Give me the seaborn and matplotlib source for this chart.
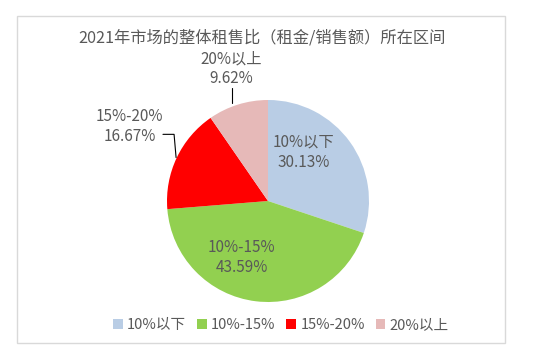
import matplotlib
matplotlib.use("Agg")
import matplotlib.pyplot as plt
import seaborn as sns
from matplotlib.patches import Rectangle, Patch

sns.set_theme(style="white")
plt.rcParams['font.family'] = ['Noto Sans CJK SC', 'DejaVu Sans']

title = "2021年市场的整体租售比（租金/销售额）所在区间"
categories = ["10%以下", "10%-15%", "15%-20%", "20%以上"]
values = [30.13, 43.59, 16.67, 9.62]
colors = ["#B9CDE5", "#92D050", "#FF0000", "#E6B9B8"]
txt = "#595959"

W, H = 534, 356
fig = plt.figure(figsize=(W / 100, H / 100), dpi=100)
fig.patch.set_facecolor("white")

# outer chart frame
fig.add_artist(Rectangle((17 / W, 1 - 343 / H), (505 - 17) / W, (343 - 16) / H,
                         transform=fig.transFigure, fill=False,
                         edgecolor="#D9D9D9", linewidth=1))

cx, cy, r = 268, 201, 101
ax = fig.add_axes([(cx - r) / W, 1 - (cy + r) / H, 2 * r / W, 2 * r / H])
wedges, _ = ax.pie(values, colors=colors, startangle=90, counterclock=False,
                   wedgeprops=dict(linewidth=0))
ax.set_xlim(-1, 1)
ax.set_ylim(-1, 1)
ax.set_aspect("equal")
ax.axis("off")

fs = 11
ls = 1.25
lab = [f"{c}\n{v:.2f}%" for c, v in zip(categories, values)]
ax.text(0.35, 0.48, lab[0], ha="center", va="center", fontsize=fs, color=txt,
        linespacing=ls)
ax.text(-0.26, -0.56, lab[1], ha="center", va="center", fontsize=fs, color=txt,
        linespacing=ls)
ax.text(-1.37, 0.74, lab[2], ha="center", va="center", fontsize=fs, color=txt,
        linespacing=ls, clip_on=False)
ax.text(-0.36, 1.31, lab[3], ha="center", va="center", fontsize=fs, color=txt,
        linespacing=ls, clip_on=False)
# leader lines
ax.plot([-1.04, -0.93, -0.91], [0.66, 0.66, 0.43], color="black", lw=0.8,
        clip_on=False)
ax.plot([-0.36, -0.36], [1.12, 0.97], color="black", lw=0.8, clip_on=False)

fig.text(262 / W, 1 - 38 / H, title, ha="center", va="center", fontsize=11.7,
         color=txt)

handles = [Patch(facecolor=c, edgecolor="none") for c in colors]
fig.legend(handles, categories, loc="center", bbox_to_anchor=(281 / W, 1 - 325 / H),
           ncol=4, frameon=False, fontsize=10.5, labelcolor=txt,
           handlelength=0.65, handleheight=0.65, handletextpad=0.3,
           columnspacing=0.75)

fig.savefig("out.png", dpi=100, facecolor="white")
